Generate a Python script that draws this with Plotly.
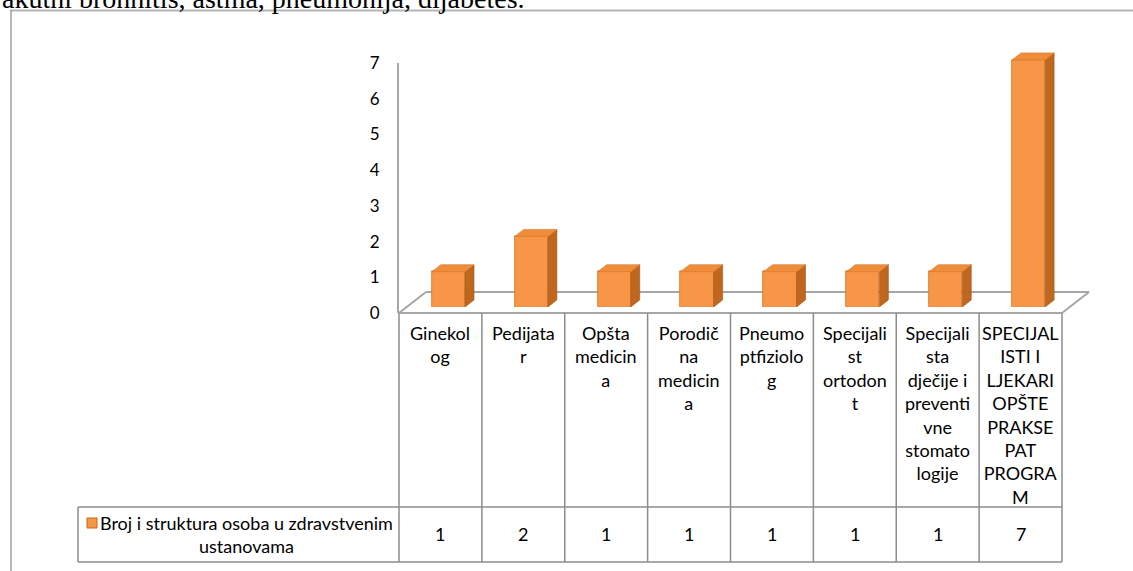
import plotly.graph_objects as go

W, H = 1133, 571

categories = ["Ginekolog", "Pedijatar", "Opšta medicina", "Porodična medicina",
              "Pneumoptfiziolog", "Specijalist ortodont",
              "Specijalista dječije i preventivne stomatologije",
              "SPECIJALISTI I LJEKARI OPŠTE PRAKSE PAT PROGRAM"]
header_labels = ["Ginekol<br>og", "Pedijata<br>r", "Opšta<br>medicin<br>a",
                 "Porodič<br>na<br>medicin<br>a", "Pneumo<br>ptfiziolo<br>g",
                 "Specijali<br>st<br>ortodon<br>t",
                 "Specijali<br>sta<br>dječije i<br>preventi<br>vne<br>stomato<br>logije",
                 "SPECIJAL<br>ISTI I<br>LJEKARI<br>OPŠTE<br>PRAKSE<br>PAT<br>PROGRA<br>M"]
values = [1, 2, 1, 1, 1, 1, 1, 7]
series_name = "Broj i struktura osoba u zdravstvenim<br>ustanovama"
y_ticks = [0, 1, 2, 3, 4, 5, 6, 7]
top_text = "akutni bronhitis, astma, pneumonija, dijabetes."

FONT = "Lato"
GRID = "#A6A6A6"
TABLE = "#8C8C8C"
FRONT = "#F79646"
SIDE = "#BF661F"
TOPC = "#EF8D3B"


def X(px):
    return px / W


def Y(py):
    return 1 - py / H


n = len(categories)
plot_l, plot_r = 399, 1062
base_front, top_front = 313, 63
bar_shift_x = 8
bar_base, unit_px = 307, 35.3
y2_max = 7.5
bar_w = 0.4
cat_px = (plot_r - plot_l) / n
ddx = 9 / cat_px
ddy = 7 / unit_px

fig = go.Figure()

xc = [i + 0.5 for i in range(n)]
fig.add_trace(go.Bar(x=xc, y=values, width=bar_w, xaxis="x2", yaxis="y2",
                     marker=dict(color=FRONT, line=dict(color="#D97A2B", width=0.8)),
                     showlegend=False, hoverinfo="skip"))

side_x, side_y, top_x, top_y = [], [], [], []
for c, v in zip(xc, values):
    x0, x1 = c - bar_w / 2, c + bar_w / 2
    side_x += [x1, x1 + ddx, x1 + ddx, x1, x1, None]
    side_y += [0, ddy, v + ddy, v, 0, None]
    top_x += [x0, x1, x1 + ddx, x0 + ddx, x0, None]
    top_y += [v, v, v + ddy, v + ddy, v, None]

fig.add_trace(go.Scatter(x=side_x, y=side_y, xaxis="x2", yaxis="y2", mode="lines",
                         fill="toself", fillcolor=SIDE, line=dict(color="#A9591A", width=0.6),
                         showlegend=False, hoverinfo="skip"))
fig.add_trace(go.Scatter(x=top_x, y=top_y, xaxis="x2", yaxis="y2", mode="lines",
                         fill="toself", fillcolor=TOPC, line=dict(color="#D9782D", width=0.6),
                         showlegend=False, hoverinfo="skip"))

fig.add_trace(go.Scatter(x=[0, n], y=[0, 0], mode="markers", marker=dict(opacity=0),
                         showlegend=False, hoverinfo="skip"))

fig.update_layout(
    template="none",
    width=W, height=H, autosize=False,
    margin=dict(l=0, r=0, t=0, b=0, pad=0),
    paper_bgcolor="white", plot_bgcolor="rgba(0,0,0,0)",
    font=dict(family=FONT, color="#000000"),
    xaxis=dict(range=[0, n], domain=[X(plot_l), X(plot_r)], visible=False,
               fixedrange=True, automargin=False),
    yaxis=dict(range=[0, 7], domain=[Y(base_front), Y(top_front)], tickvals=y_ticks,
               showline=True, linecolor=GRID, linewidth=2, showgrid=False, zeroline=False,
               ticks="outside", ticklen=14, tickcolor="rgba(0,0,0,0)", automargin=False,
               fixedrange=True,
               tickfont=dict(family=FONT, size=17, color="#000000")),
    xaxis2=dict(range=[0, n], domain=[X(plot_l + bar_shift_x), X(plot_r + bar_shift_x)],
                visible=False, anchor="y2", fixedrange=True, automargin=False),
    yaxis2=dict(range=[0, y2_max], domain=[Y(bar_base), Y(bar_base - unit_px * y2_max)],
                visible=False, anchor="x2", fixedrange=True, automargin=False),
    bargap=0,
)

shapes = []
shapes.append(dict(type="line", xref="paper", yref="paper", x0=X(10), x1=X(1133), y0=Y(10.5), y1=Y(10.5),
                   line=dict(color="#B5B5B5", width=2)))
shapes.append(dict(type="line", xref="paper", yref="paper", x0=X(11), x1=X(11), y0=Y(10), y1=Y(571),
                   line=dict(color="#A0A0A0", width=1.5)))
dfx, dfy = 27, -21
for (ax, ay, bx, by) in [(plot_l + dfx, base_front + dfy, plot_r + dfx, base_front + dfy),
                         (plot_l, base_front, plot_l + dfx, base_front + dfy),
                         (plot_r, base_front, plot_r + dfx, base_front + dfy),
                         (plot_l, base_front, plot_r, base_front)]:
    shapes.append(dict(type="line", xref="paper", yref="paper", layer="below",
                       x0=X(ax), y0=Y(ay), x1=X(bx), y1=Y(by),
                       line=dict(color=GRID, width=2)))
row1, row2 = 507, 562
leg_l = 78
for i in range(n + 1):
    xp = plot_l + i * cat_px
    shapes.append(dict(type="line", xref="paper", yref="paper",
                       x0=X(xp), x1=X(xp), y0=Y(base_front), y1=Y(row2),
                       line=dict(color=TABLE, width=1.5)))
for yp in (row1, row2):
    shapes.append(dict(type="line", xref="paper", yref="paper",
                       x0=X(leg_l), x1=X(plot_r), y0=Y(yp), y1=Y(yp),
                       line=dict(color=TABLE, width=1.5)))
shapes.append(dict(type="line", xref="paper", yref="paper",
                   x0=X(leg_l), x1=X(leg_l), y0=Y(row1), y1=Y(row2),
                   line=dict(color=TABLE, width=1.5)))
shapes.append(dict(type="rect", xref="paper", yref="paper",
                   x0=X(87), x1=X(97), y0=Y(528), y1=Y(518),
                   fillcolor=FRONT, line=dict(color="#C0661F", width=1)))
fig.update_layout(shapes=shapes)

annotations = []
for c, lab, v in zip(xc, header_labels, values):
    annotations.append(dict(xref="x", yref="paper", x=c, y=Y(320), xanchor="center", yanchor="top",
                            text=lab, showarrow=False, align="center",
                            font=dict(family=FONT, size=18, color="#000000")))
    annotations.append(dict(xref="x", yref="paper", x=c, y=Y(534), xanchor="center", yanchor="middle",
                            text=str(v), showarrow=False,
                            font=dict(family=FONT, size=18, color="#000000")))
annotations.append(dict(xref="paper", yref="paper", x=X(246), y=Y(534), xanchor="center", yanchor="middle",
                        text=series_name, showarrow=False, align="center",
                        font=dict(family=FONT, size=18, color="#000000")))
annotations.append(dict(xref="paper", yref="paper", x=X(0), y=Y(-1.5), xanchor="left", yanchor="middle",
                        text=top_text, showarrow=False,
                        font=dict(family="Liberation Serif", size=28, color="#000000")))
fig.update_layout(annotations=annotations)

fig.write_html("out.html", config={"displayModeBar": False},
               post_script="document.body.style.margin='0';document.body.style.padding='0';")
